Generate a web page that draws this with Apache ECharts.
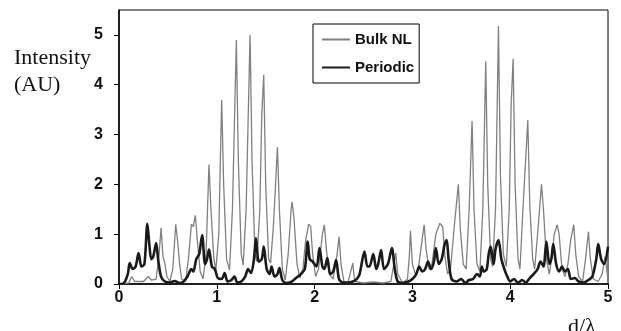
<!DOCTYPE html>
<html>
<head>
<meta charset="utf-8">
<script src="https://cdn.jsdelivr.net/npm/echarts@6/dist/echarts.min.js"></script>
<style>
html,body{margin:0;padding:0;background:#fff;}
#c{width:621px;height:331px;}
</style>
</head>
<body>
<div id="c"></div>
<script>
// d/lambda positions and intensities (AU)
const bulkX = [0.00,0.10,0.13,0.16,0.25,0.30,0.33,0.38,0.41,0.43,0.45,0.47,0.49,0.52,0.55,0.58,0.60,0.62,0.64,0.68,0.71,0.74,0.76,0.78,0.80,0.83,0.86,0.89,0.92,0.94,0.97,0.99,1.02,1.05,1.07,1.10,1.13,1.16,1.20,1.22,1.25,1.27,1.30,1.34,1.36,1.39,1.41,1.44,1.46,1.48,1.50,1.53,1.55,1.58,1.62,1.64,1.67,1.70,1.73,1.76,1.77,1.79,1.82,1.85,1.88,1.91,1.94,1.96,1.98,2.01,2.04,2.08,2.10,2.12,2.15,2.19,2.23,2.25,2.27,2.30,2.34,2.39,2.41,2.50,2.60,2.70,2.78,2.81,2.83,2.85,2.90,2.95,2.97,2.98,3.00,3.03,3.06,3.10,3.12,3.14,3.17,3.20,3.24,3.28,3.31,3.33,3.36,3.39,3.43,3.47,3.49,3.52,3.55,3.58,3.61,3.63,3.66,3.69,3.72,3.75,3.77,3.80,3.82,3.85,3.88,3.90,3.93,3.96,3.99,4.01,4.03,4.05,4.08,4.10,4.13,4.18,4.20,4.23,4.25,4.28,4.32,4.34,4.37,4.40,4.43,4.45,4.48,4.50,4.53,4.56,4.59,4.62,4.65,4.67,4.70,4.74,4.77,4.80,4.82,4.85,4.90,4.94,4.97,5.00];
const bulkY = [0.00,0.02,0.15,0.05,0.05,0.15,0.08,0.10,0.60,1.13,0.55,0.40,0.15,0.05,0.30,1.20,0.85,0.40,0.10,0.05,0.50,1.20,1.15,1.38,0.90,0.25,0.10,0.60,2.40,1.50,0.50,0.28,1.00,3.70,2.00,0.50,0.28,1.50,4.90,2.50,0.60,0.38,1.50,5.00,2.50,0.60,0.45,1.50,3.40,4.20,2.00,0.50,0.42,1.20,2.75,1.50,0.30,0.08,0.60,1.50,1.65,1.30,0.40,0.12,0.30,0.90,1.20,1.15,0.60,0.15,0.30,1.00,1.19,0.70,0.20,0.10,0.60,0.95,0.40,0.05,0.02,0.42,0.05,0.02,0.04,0.02,0.05,0.40,0.62,0.20,0.02,0.10,0.60,1.07,0.40,0.20,0.30,0.90,1.19,0.70,0.30,0.40,1.00,1.22,1.15,0.60,0.20,0.30,1.20,2.00,1.10,0.40,0.30,1.50,3.27,1.50,0.40,0.25,1.50,4.47,2.00,0.50,0.35,1.50,5.18,2.20,0.60,0.35,1.50,3.60,4.52,2.00,0.50,0.30,1.50,3.29,1.60,0.50,0.30,1.00,2.00,1.50,0.50,0.20,0.60,1.00,1.19,1.00,0.30,0.15,0.40,0.90,1.19,0.60,0.15,0.05,0.50,1.05,0.50,0.10,0.05,0.20,0.55,0.10];

const perX = [0.00,0.05,0.09,0.11,0.14,0.17,0.20,0.23,0.26,0.29,0.31,0.33,0.35,0.38,0.40,0.43,0.47,0.52,0.57,0.62,0.66,0.70,0.74,0.76,0.79,0.82,0.85,0.88,0.90,0.92,0.95,0.98,1.01,1.05,1.08,1.11,1.15,1.18,1.21,1.25,1.29,1.32,1.35,1.38,1.40,1.43,1.46,1.48,1.51,1.54,1.56,1.59,1.62,1.64,1.67,1.71,1.76,1.81,1.86,1.90,1.93,1.95,1.98,2.02,2.05,2.08,2.10,2.13,2.16,2.19,2.22,2.25,2.29,2.34,2.39,2.43,2.46,2.51,2.54,2.56,2.60,2.63,2.65,2.68,2.71,2.75,2.79,2.82,2.85,2.90,2.96,3.00,3.04,3.07,3.10,3.13,3.16,3.19,3.22,3.24,3.27,3.30,3.33,3.35,3.37,3.40,3.45,3.50,3.54,3.58,3.62,3.66,3.69,3.71,3.73,3.76,3.78,3.80,3.83,3.85,3.88,3.91,3.94,3.97,4.00,4.04,4.08,4.12,4.16,4.20,4.24,4.28,4.31,4.34,4.37,4.40,4.42,4.44,4.47,4.50,4.53,4.56,4.59,4.62,4.66,4.70,4.75,4.80,4.84,4.88,4.90,4.93,4.96,5.00];
const perY = [0.00,0.02,0.20,0.42,0.30,0.35,0.62,0.35,0.40,1.21,0.80,0.50,0.55,0.82,0.50,0.15,0.05,0.03,0.06,0.02,0.05,0.15,0.30,0.25,0.50,0.60,0.98,0.40,0.50,0.69,0.35,0.30,0.12,0.10,0.22,0.05,0.08,0.15,0.03,0.05,0.15,0.30,0.22,0.50,0.92,0.45,0.50,0.75,0.30,0.20,0.35,0.15,0.20,0.32,0.08,0.02,0.04,0.12,0.20,0.30,0.85,0.50,0.45,0.35,0.72,0.35,0.30,0.52,0.20,0.25,0.48,0.10,0.03,0.03,0.05,0.10,0.20,0.65,0.35,0.35,0.60,0.30,0.40,0.68,0.30,0.40,0.72,0.30,0.05,0.02,0.05,0.10,0.20,0.35,0.25,0.30,0.45,0.30,0.45,0.72,0.40,0.50,0.80,0.88,0.50,0.10,0.05,0.10,0.02,0.08,0.10,0.20,0.15,0.35,0.25,0.30,0.60,0.75,0.40,0.70,0.88,0.50,0.30,0.15,0.05,0.10,0.02,0.08,0.03,0.12,0.20,0.30,0.45,0.35,0.85,0.40,0.50,0.80,0.40,0.25,0.35,0.25,0.30,0.10,0.12,0.05,0.03,0.08,0.15,0.50,0.80,0.50,0.40,0.75];

const xTicks = [0,1,2,3,4,5];
const yTicks = [0,1,2,3,4,5];

const pair = (xs, ys) => xs.map((x, i) => [x, ys[i]]);

const chart = echarts.init(document.getElementById('c'));
chart.setOption({
  animation: false,
  backgroundColor: '#fff',
  grid: { left: 119, right: 13, top: 10, bottom: 47, show: true, borderColor: '#000', borderWidth: 1 },
  legend: {
    orient: 'vertical', left: 313, top: 24,
    padding: [8, 5, 8, 8], itemGap: 13, itemWidth: 28, itemHeight: 14,
    borderColor: '#000', borderWidth: 1, backgroundColor: '#fff',
    itemStyle: { opacity: 0 },
    textStyle: { fontFamily: 'Liberation Sans, Arial, sans-serif', fontWeight: 'bold', fontSize: 15, color: '#111' },
    data: ['Bulk NL', 'Periodic']
  },
  xAxis: {
    type: 'value', min: 0, max: 5, interval: 1,
    axisLine: { lineStyle: { color: '#000', width: 1.5 } },
    axisTick: { show: true, inside: false, length: 5, lineStyle: { color: '#000' } },
    splitLine: { show: false },
    axisLabel: { margin: 6, fontFamily: 'Liberation Sans, Arial, sans-serif', fontWeight: 'bold', fontSize: 16, color: '#111',
      formatter: v => xTicks.includes(v) ? String(v) : '' }
  },
  yAxis: {
    type: 'value', min: 0, max: 5.5, interval: 1,
    axisLine: { show: true, lineStyle: { color: '#000', width: 1.5 } },
    axisTick: { show: true, inside: false, length: 5, lineStyle: { color: '#000' } },
    splitLine: { show: false },
    axisLabel: { margin: 16, fontFamily: 'Liberation Sans, Arial, sans-serif', fontWeight: 'bold', fontSize: 16, color: '#111',
      showMaxLabel: false,
      formatter: v => yTicks.includes(v) ? String(v) : '' }
  },
  graphic: [
    { type: 'text', left: 14, top: 47, style: { text: 'Intensity', font: '22px "Liberation Serif", "Times New Roman", serif', fill: '#111' } },
    { type: 'text', left: 14, top: 74, style: { text: '(AU)', font: '22px "Liberation Serif", "Times New Roman", serif', fill: '#111' } },
    { type: 'text', left: 568, top: 316, style: { text: 'd/λ', font: '22px "Liberation Serif", "Times New Roman", serif', fill: '#111' } }
  ],
  series: [
    { name: 'Bulk NL', type: 'line', data: pair(bulkX, bulkY), showSymbol: false, symbol: 'none',
      lineStyle: { color: '#808080', width: 1.3 }, itemStyle: { color: '#808080' }, z: 2 },
    { name: 'Periodic', type: 'line', data: pair(perX, perY), showSymbol: false, symbol: 'none', smooth: 0.3,
      lineStyle: { color: '#1a1a1a', width: 2.6 }, itemStyle: { color: '#1a1a1a' }, z: 3 }
  ]
});
</script>
</body>
</html>
